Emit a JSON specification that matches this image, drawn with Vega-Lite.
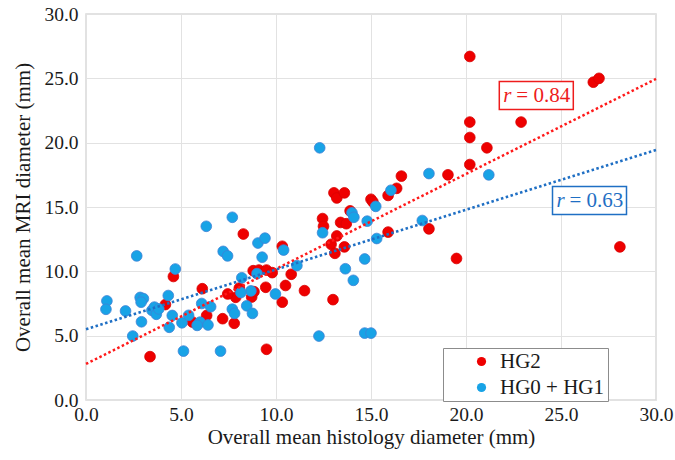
{
  "$schema": "https://vega.github.io/schema/vega-lite/v6.json",
  "width": 570,
  "height": 386,
  "autosize": {"type": "none"},
  "padding": {"left": 86, "top": 14, "right": 19, "bottom": 60},
  "background": "white",
  "config": {
    "font": "Liberation Serif",
    "view": {"stroke": "#d9d9d9", "strokeWidth": 1.5},
    "axis": {
      "labelFont": "Liberation Serif",
      "titleFont": "Liberation Serif",
      "labelFontSize": 19.5,
      "titleFontSize": 21,
      "titleFontWeight": "normal",
      "labelColor": "#1a1a1a",
      "titleColor": "#1a1a1a",
      "labelFlush": false,
      "labelOverlap": false,
      "ticks": false,
      "domain": false,
      "gridColor": "#e2e2e2",
      "gridWidth": 1
    }
  },
  "datasets": {
    "pts": [
      {"x": 20.2, "y": 26.7, "g": "HG2"},
      {"x": 26.7, "y": 24.7, "g": "HG2"},
      {"x": 27.0, "y": 25.0, "g": "HG2"},
      {"x": 22.9, "y": 21.6, "g": "HG2"},
      {"x": 20.2, "y": 21.6, "g": "HG2"},
      {"x": 20.2, "y": 20.4, "g": "HG2"},
      {"x": 21.1, "y": 19.6, "g": "HG2"},
      {"x": 20.2, "y": 18.3, "g": "HG2"},
      {"x": 19.05, "y": 17.5, "g": "HG2"},
      {"x": 16.6, "y": 17.4, "g": "HG2"},
      {"x": 16.35, "y": 16.45, "g": "HG2"},
      {"x": 15.9, "y": 15.9, "g": "HG2"},
      {"x": 15.0, "y": 15.6, "g": "HG2"},
      {"x": 15.1, "y": 15.4, "g": "HG2"},
      {"x": 13.05, "y": 16.1, "g": "HG2"},
      {"x": 13.2, "y": 15.7, "g": "HG2"},
      {"x": 13.6, "y": 16.1, "g": "HG2"},
      {"x": 13.9, "y": 14.7, "g": "HG2"},
      {"x": 12.45, "y": 14.1, "g": "HG2"},
      {"x": 12.5, "y": 13.5, "g": "HG2"},
      {"x": 13.4, "y": 13.8, "g": "HG2"},
      {"x": 13.7, "y": 13.7, "g": "HG2"},
      {"x": 13.2, "y": 12.75, "g": "HG2"},
      {"x": 15.9, "y": 13.05, "g": "HG2"},
      {"x": 12.9, "y": 12.1, "g": "HG2"},
      {"x": 13.6, "y": 11.9, "g": "HG2"},
      {"x": 13.1, "y": 11.4, "g": "HG2"},
      {"x": 28.1, "y": 11.9, "g": "HG2"},
      {"x": 19.5, "y": 11.0, "g": "HG2"},
      {"x": 18.05, "y": 13.3, "g": "HG2"},
      {"x": 13.0, "y": 7.8, "g": "HG2"},
      {"x": 10.8, "y": 9.77, "g": "HG2"},
      {"x": 11.5, "y": 8.5, "g": "HG2"},
      {"x": 10.33, "y": 11.95, "g": "HG2"},
      {"x": 8.28, "y": 12.9, "g": "HG2"},
      {"x": 8.8, "y": 10.05, "g": "HG2"},
      {"x": 9.1, "y": 10.1, "g": "HG2"},
      {"x": 9.5, "y": 10.1, "g": "HG2"},
      {"x": 9.8, "y": 9.9, "g": "HG2"},
      {"x": 9.46, "y": 8.76, "g": "HG2"},
      {"x": 10.5, "y": 8.9, "g": "HG2"},
      {"x": 8.07, "y": 8.7, "g": "HG2"},
      {"x": 7.88, "y": 7.98, "g": "HG2"},
      {"x": 7.46, "y": 8.24, "g": "HG2"},
      {"x": 8.72, "y": 8.0, "g": "HG2"},
      {"x": 8.84, "y": 8.42, "g": "HG2"},
      {"x": 10.33, "y": 7.6, "g": "HG2"},
      {"x": 6.12, "y": 8.65, "g": "HG2"},
      {"x": 6.35, "y": 6.57, "g": "HG2"},
      {"x": 7.19, "y": 6.32, "g": "HG2"},
      {"x": 7.8, "y": 5.96, "g": "HG2"},
      {"x": 9.5, "y": 3.94, "g": "HG2"},
      {"x": 5.6, "y": 6.06, "g": "HG2"},
      {"x": 4.6, "y": 9.6, "g": "HG2"},
      {"x": 4.18, "y": 7.42, "g": "HG2"},
      {"x": 3.37, "y": 3.37, "g": "HG2"},
      {"x": 12.3, "y": 19.6, "g": "HG0 + HG1"},
      {"x": 16.05, "y": 16.3, "g": "HG0 + HG1"},
      {"x": 15.25, "y": 15.05, "g": "HG0 + HG1"},
      {"x": 14.0, "y": 14.55, "g": "HG0 + HG1"},
      {"x": 14.1, "y": 14.2, "g": "HG0 + HG1"},
      {"x": 14.8, "y": 13.9, "g": "HG0 + HG1"},
      {"x": 12.45, "y": 13.0, "g": "HG0 + HG1"},
      {"x": 15.3, "y": 12.55, "g": "HG0 + HG1"},
      {"x": 11.1, "y": 10.45, "g": "HG0 + HG1"},
      {"x": 14.67, "y": 10.96, "g": "HG0 + HG1"},
      {"x": 13.65, "y": 10.2, "g": "HG0 + HG1"},
      {"x": 14.07, "y": 9.3, "g": "HG0 + HG1"},
      {"x": 12.26, "y": 4.97, "g": "HG0 + HG1"},
      {"x": 14.67, "y": 5.2, "g": "HG0 + HG1"},
      {"x": 15.0, "y": 5.2, "g": "HG0 + HG1"},
      {"x": 18.05, "y": 17.6, "g": "HG0 + HG1"},
      {"x": 21.2, "y": 17.5, "g": "HG0 + HG1"},
      {"x": 17.7, "y": 13.95, "g": "HG0 + HG1"},
      {"x": 6.33, "y": 13.5, "g": "HG0 + HG1"},
      {"x": 7.7, "y": 14.2, "g": "HG0 + HG1"},
      {"x": 9.05, "y": 12.2, "g": "HG0 + HG1"},
      {"x": 9.42, "y": 12.58, "g": "HG0 + HG1"},
      {"x": 7.22, "y": 11.55, "g": "HG0 + HG1"},
      {"x": 7.45, "y": 11.2, "g": "HG0 + HG1"},
      {"x": 9.27, "y": 11.1, "g": "HG0 + HG1"},
      {"x": 10.4, "y": 11.65, "g": "HG0 + HG1"},
      {"x": 9.0, "y": 9.82, "g": "HG0 + HG1"},
      {"x": 8.2, "y": 9.5, "g": "HG0 + HG1"},
      {"x": 8.68, "y": 8.48, "g": "HG0 + HG1"},
      {"x": 8.15, "y": 8.35, "g": "HG0 + HG1"},
      {"x": 9.97, "y": 8.24, "g": "HG0 + HG1"},
      {"x": 8.46, "y": 7.32, "g": "HG0 + HG1"},
      {"x": 8.76, "y": 6.73, "g": "HG0 + HG1"},
      {"x": 7.7, "y": 7.06, "g": "HG0 + HG1"},
      {"x": 7.82, "y": 6.73, "g": "HG0 + HG1"},
      {"x": 6.09, "y": 7.5, "g": "HG0 + HG1"},
      {"x": 6.56, "y": 7.25, "g": "HG0 + HG1"},
      {"x": 6.0, "y": 6.05, "g": "HG0 + HG1"},
      {"x": 6.42, "y": 5.83, "g": "HG0 + HG1"},
      {"x": 5.85, "y": 5.8, "g": "HG0 + HG1"},
      {"x": 7.08, "y": 3.8, "g": "HG0 + HG1"},
      {"x": 2.67, "y": 11.2, "g": "HG0 + HG1"},
      {"x": 4.7, "y": 10.18, "g": "HG0 + HG1"},
      {"x": 1.1, "y": 7.7, "g": "HG0 + HG1"},
      {"x": 1.05, "y": 7.05, "g": "HG0 + HG1"},
      {"x": 2.08, "y": 6.92, "g": "HG0 + HG1"},
      {"x": 2.85, "y": 7.97, "g": "HG0 + HG1"},
      {"x": 3.02, "y": 7.88, "g": "HG0 + HG1"},
      {"x": 2.9, "y": 7.6, "g": "HG0 + HG1"},
      {"x": 4.33, "y": 8.12, "g": "HG0 + HG1"},
      {"x": 3.47, "y": 6.97, "g": "HG0 + HG1"},
      {"x": 3.6, "y": 7.22, "g": "HG0 + HG1"},
      {"x": 3.7, "y": 6.66, "g": "HG0 + HG1"},
      {"x": 3.83, "y": 7.08, "g": "HG0 + HG1"},
      {"x": 2.92, "y": 6.08, "g": "HG0 + HG1"},
      {"x": 4.54, "y": 6.57, "g": "HG0 + HG1"},
      {"x": 4.38, "y": 5.65, "g": "HG0 + HG1"},
      {"x": 5.05, "y": 6.0, "g": "HG0 + HG1"},
      {"x": 5.4, "y": 6.58, "g": "HG0 + HG1"},
      {"x": 2.46, "y": 4.97, "g": "HG0 + HG1"},
      {"x": 5.13, "y": 3.8, "g": "HG0 + HG1"}
    ],
    "trend": [
      {"x": 0, "y": 2.8, "g": "HG2"},
      {"x": 30, "y": 24.95, "g": "HG2"},
      {"x": 0, "y": 5.5, "g": "HG0 + HG1"},
      {"x": 30, "y": 19.43, "g": "HG0 + HG1"}
    ],
    "notes": [
      {"x": 23.7, "y": 23.66, "g": "HG2", "r": "r", "v": "= 0.84"},
      {"x": 26.5, "y": 15.5, "g": "HG0 + HG1", "r": "r", "v": "= 0.63"}
    ]
  },
  "layer": [
    {
      "data": {"name": "pts"},
      "mark": {"type": "point", "filled": true, "opacity": 1, "size": 115, "strokeWidth": 0.8, "shape": "circle"},
      "encoding": {
        "x": {"field": "x", "type": "quantitative",
          "scale": {"domain": [0, 30], "nice": false},
          "axis": {"values": [0, 5, 10, 15, 20, 25, 30], "format": ".1f", "title": "Overall mean histology diameter (mm)", "labelPadding": 5, "titlePadding": 3}},
        "y": {"field": "y", "type": "quantitative",
          "scale": {"domain": [0, 30], "nice": false},
          "axis": {"values": [0, 5, 10, 15, 20, 25, 30], "format": ".1f", "title": "Overall mean MRI diameter (mm)", "labelPadding": 8, "titlePadding": 10}},
        "fill": {"field": "g", "type": "nominal",
          "scale": {"domain": ["HG2", "HG0 + HG1"], "range": ["#ee0000", "#18a3e6"]},
          "legend": {
            "title": null,
            "orient": "none",
            "legendX": 357,
            "legendY": 334,
            "direction": "vertical",
            "labelFontSize": 21,
            "labelFont": "Liberation Serif",
            "labelColor": "#1a1a1a",
            "symbolSize": 85,
            "symbolStrokeWidth": 0,
            "symbolOffset": 25,
            "labelOffset": 8,
            "rowPadding": 4,
            "padding": 3,
            "strokeColor": "#8c8c8c",
            "fillColor": "white",
            "encode": {
              "legend": {"update": {"strokeWidth": {"value": 1.5}}},
              "entries": {"update": {"width": {"value": 203}}}
            }
          }},
        "stroke": {"field": "g", "type": "nominal",
          "scale": {"domain": ["HG2", "HG0 + HG1"], "range": ["#d80000", "#3f82d6"]},
          "legend": null}
      }
    },
    {
      "data": {"name": "trend"},
      "mark": {"type": "line", "strokeWidth": 2.5, "strokeDash": [2.5, 2.5]},
      "encoding": {
        "x": {"field": "x", "type": "quantitative"},
        "y": {"field": "y", "type": "quantitative"},
        "detail": {"field": "g", "type": "nominal"},
        "color": {"field": "g", "type": "nominal",
          "scale": {"domain": ["HG2", "HG0 + HG1"], "range": ["#ff1a1a", "#1f6fc4"]},
          "legend": null}
      }
    },
    {
      "data": {"name": "notes"},
      "mark": {"type": "point", "shape": "M-1,-0.378L1,-0.378L1,0.378L-1,0.378Z", "size": 5476, "filled": false, "fill": "white", "fillOpacity": 1, "strokeWidth": 1.5, "opacity": 1},
      "encoding": {
        "x": {"field": "x", "type": "quantitative"},
        "y": {"field": "y", "type": "quantitative"},
        "stroke": {"field": "g", "type": "nominal",
          "scale": {"domain": ["HG2", "HG0 + HG1"], "range": ["#ee1c1c", "#1f6fc4"]},
          "legend": null}
      }
    },
    {
      "data": {"name": "notes"},
      "mark": {"type": "text", "fontSize": 21, "fontStyle": "italic", "align": "left", "baseline": "middle", "dx": -33, "font": "Liberation Serif"},
      "encoding": {
        "x": {"field": "x", "type": "quantitative"},
        "y": {"field": "y", "type": "quantitative"},
        "text": {"field": "r"},
        "fill": {"field": "g", "type": "nominal",
          "scale": {"domain": ["HG2", "HG0 + HG1"], "range": ["#ee1c1c", "#1f6fc4"]},
          "legend": null}
      }
    },
    {
      "data": {"name": "notes"},
      "mark": {"type": "text", "fontSize": 21, "align": "left", "baseline": "middle", "dx": -20, "font": "Liberation Serif"},
      "encoding": {
        "x": {"field": "x", "type": "quantitative"},
        "y": {"field": "y", "type": "quantitative"},
        "text": {"field": "v"},
        "fill": {"field": "g", "type": "nominal",
          "scale": {"domain": ["HG2", "HG0 + HG1"], "range": ["#ee1c1c", "#1f6fc4"]},
          "legend": null}
      }
    }
  ],
  "resolve": {"scale": {"stroke": "independent", "fill": "independent", "color": "independent"}}
}
